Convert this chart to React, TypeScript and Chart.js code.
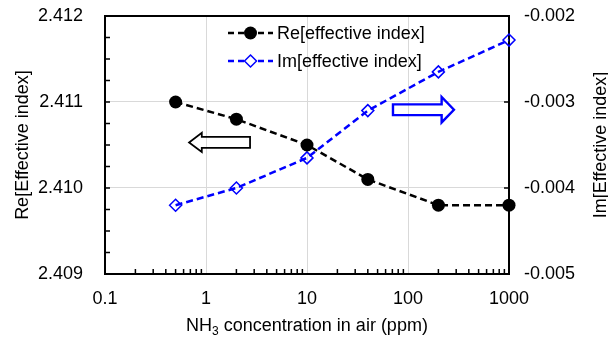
import React, { useEffect, useRef } from "react";
import { Chart, registerables } from "chart.js";

Chart.register(...registerables);

// NH3 concentration (ppm) and the computed effective index of the guided mode
const concentrations = [0.5, 2, 10, 40, 200, 1000];
const reIndex = [2.411, 2.4108, 2.4105, 2.4101, 2.4098, 2.4098];
const imIndex = [-0.0042, -0.004, -0.00365, -0.0031, -0.00265, -0.00228];

const xTicks = [0.1, 1, 10, 100, 1000];
const reTicks = [2.409, 2.41, 2.411, 2.412];
const imTicks = [-0.005, -0.004, -0.003, -0.002];
const reMinorStep = 0.00025;

const seriesLabels = ["Re[effective index]", "Im[effective index]"];
const leftTitle = "Re[Effective index]";
const rightTitle = "Im[Effective index]";
const xTitleParts = ["NH", "3", " concentration in air (ppm)"];

// Hollow arrows telling which axis each curve belongs to: [x, y] in data units
const reArrow = { from: [2.73, 2.41053], to: [0.68, 2.41053] };
const imArrow = { from: [71, -0.00309], to: [285, -0.00309] };

const FONT = "'Liberation Sans', Arial, Helvetica, sans-serif";
const BLUE = "#0000ff";
const GRID = "#d9d9d9";

function hollowArrow(
  ctx: CanvasRenderingContext2D,
  x0: number,
  x1: number,
  y: number,
  body: number,
  head: number,
  headLen: number,
  color: string,
  lw: number
) {
  const dir = Math.sign(x1 - x0);
  const hb = x1 - dir * headLen;
  ctx.save();
  ctx.strokeStyle = color;
  ctx.lineWidth = lw;
  ctx.lineJoin = "miter";
  ctx.beginPath();
  ctx.moveTo(x0, y - body);
  ctx.lineTo(hb, y - body);
  ctx.lineTo(hb, y - head);
  ctx.lineTo(x1, y);
  ctx.lineTo(hb, y + head);
  ctx.lineTo(hb, y + body);
  ctx.lineTo(x0, y + body);
  ctx.closePath();
  ctx.stroke();
  ctx.restore();
}

const framePlugin = {
  id: "frameAndMinorTicks",
  beforeDatasetsDraw(chart: any) {
    const { ctx, chartArea: a, scales } = chart;
    const x = scales.x;
    const y = scales.y;
    const y1 = scales.y1;
    ctx.save();
    ctx.strokeStyle = "#000";
    ctx.lineWidth = 1.5;
    ctx.beginPath();
    // minor ticks on the log axis, pointing into the plot
    for (let d = 0; d < xTicks.length - 1; d++) {
      for (let m = 2; m <= 9; m++) {
        const px = x.getPixelForValue(xTicks[d] * m);
        ctx.moveTo(px, a.bottom);
        ctx.lineTo(px, a.bottom - 5);
      }
    }
    // left axis minor/major ticks
    for (let v = reTicks[0]; v <= reTicks[reTicks.length - 1] + 1e-9; v += reMinorStep) {
      const py = y.getPixelForValue(v);
      ctx.moveTo(a.left, py);
      ctx.lineTo(a.left + 5, py);
    }
    // right axis major ticks
    imTicks.forEach((v) => {
      const py = y1.getPixelForValue(v);
      ctx.moveTo(a.right, py);
      ctx.lineTo(a.right - 5, py);
    });
    ctx.stroke();
    ctx.lineWidth = 2;
    ctx.strokeRect(a.left, a.top, a.right - a.left, a.bottom - a.top);
    ctx.restore();
  },
};

const decorPlugin = {
  id: "decor",
  afterDatasetsDraw(chart: any) {
    const { ctx, chartArea: a, scales } = chart;
    const x = scales.x;
    const y = scales.y;
    const y1 = scales.y1;

    // arrows
    hollowArrow(
      ctx,
      x.getPixelForValue(reArrow.from[0]),
      x.getPixelForValue(reArrow.to[0]),
      y.getPixelForValue(reArrow.from[1]),
      5.5,
      9.6,
      12.7,
      "#000",
      1.8
    );
    hollowArrow(
      ctx,
      x.getPixelForValue(imArrow.from[0]),
      x.getPixelForValue(imArrow.to[0]),
      y1.getPixelForValue(imArrow.from[1]),
      5.4,
      12.7,
      12.3,
      BLUE,
      2.4
    );

    // legend
    const lx0 = 228;
    const lx1 = 273;
    const rows = [33, 61];
    chart.data.datasets.forEach((ds: any, i: number) => {
      const ly = rows[i];
      ctx.save();
      ctx.strokeStyle = ds.borderColor;
      ctx.lineWidth = 2.5;
      ctx.setLineDash([6, 4]);
      ctx.beginPath();
      ctx.moveTo(lx0, ly);
      ctx.lineTo(lx1, ly);
      ctx.stroke();
      ctx.setLineDash([]);
      const cx = (lx0 + lx1) / 2;
      if (i === 0) {
        ctx.fillStyle = "#000";
        ctx.beginPath();
        ctx.arc(cx, ly, 6.5, 0, Math.PI * 2);
        ctx.fill();
      } else {
        ctx.fillStyle = "#fff";
        ctx.lineWidth = 1.5;
        ctx.beginPath();
        ctx.moveTo(cx, ly - 6);
        ctx.lineTo(cx + 6, ly);
        ctx.lineTo(cx, ly + 6);
        ctx.lineTo(cx - 6, ly);
        ctx.closePath();
        ctx.fill();
        ctx.stroke();
      }
      ctx.fillStyle = "#000";
      ctx.font = `18px ${FONT}`;
      ctx.textAlign = "left";
      ctx.textBaseline = "middle";
      ctx.fillText(ds.label, 277, ly + 1);
      ctx.restore();
    });

    // axis titles
    const midY = (a.top + a.bottom) / 2;
    ctx.save();
    ctx.fillStyle = "#000";
    ctx.font = `18px ${FONT}`;
    ctx.textAlign = "center";
    ctx.textBaseline = "alphabetic";
    ctx.save();
    ctx.translate(28, midY);
    ctx.rotate(-Math.PI / 2);
    ctx.fillText(leftTitle, 0, 0);
    ctx.restore();
    ctx.save();
    ctx.translate(606, midY);
    ctx.rotate(-Math.PI / 2);
    ctx.fillText(rightTitle, 0, 0);
    ctx.restore();

    // x title with subscript
    const big = `18px ${FONT}`;
    const small = `12px ${FONT}`;
    ctx.font = big;
    const w0 = ctx.measureText(xTitleParts[0]).width;
    const w2 = ctx.measureText(xTitleParts[2]).width;
    ctx.font = small;
    const w1 = ctx.measureText(xTitleParts[1]).width;
    const total = w0 + w1 + w2;
    let tx = (a.left + a.right) / 2 - total / 2;
    const ty = 331;
    ctx.textAlign = "left";
    ctx.font = big;
    ctx.fillText(xTitleParts[0], tx, ty);
    tx += w0;
    ctx.font = small;
    ctx.fillText(xTitleParts[1], tx, ty + 4);
    tx += w1;
    ctx.font = big;
    ctx.fillText(xTitleParts[2], tx, ty);
    ctx.restore();
  },
};

export default function App() {
  const canvasRef = useRef<HTMLCanvasElement | null>(null);

  useEffect(() => {
    const canvas = canvasRef.current;
    if (!canvas) return;
    const tickFont = { family: FONT, size: 18 };
    const noPad = (s: any) => {
      s.paddingTop = 0;
      s.paddingBottom = 0;
      s.paddingLeft = 0;
      s.paddingRight = 0;
    };
    const chart = new Chart(canvas, {
      type: "line",
      data: {
        datasets: [
          {
            label: seriesLabels[0],
            data: concentrations.map((c, i) => ({ x: c, y: reIndex[i] })),
            yAxisID: "y",
            borderColor: "#000",
            backgroundColor: "#000",
            borderWidth: 2.5,
            borderDash: [7, 4],
            pointStyle: "circle",
            pointRadius: 6.5,
            pointBorderWidth: 0,
            pointBackgroundColor: "#000",
            clip: false,
          },
          {
            label: seriesLabels[1],
            data: concentrations.map((c, i) => ({ x: c, y: imIndex[i] })),
            yAxisID: "y1",
            borderColor: BLUE,
            backgroundColor: "rgba(0,0,0,0)",
            borderWidth: 2.5,
            borderDash: [7, 4],
            pointStyle: "rectRot",
            pointRadius: 6,
            pointBorderWidth: 1.5,
            pointBorderColor: BLUE,
            pointBackgroundColor: "rgba(0,0,0,0)",
            clip: false,
          },
        ],
      },
      options: {
        responsive: false,
        animation: false,
        devicePixelRatio: 1,
        layout: { padding: { top: 16, left: 0, right: 0, bottom: 0 } },
        plugins: {
          legend: { display: false },
          tooltip: { enabled: false },
        },
        elements: { line: { tension: 0 } },
        scales: {
          x: {
            type: "logarithmic",
            position: "bottom",
            min: 0.1,
            max: 1000,
            afterBuildTicks: (s: any) => {
              s.ticks = xTicks.map((v) => ({ value: v }));
            },
            afterFit: (s: any) => {
              s.height = 64;
              noPad(s);
            },
            grid: { color: GRID, lineWidth: 1, drawTicks: false },
            border: { display: false },
            ticks: {
              color: "#000",
              font: tickFont,
              padding: 14,
              maxRotation: 0,
              autoSkip: false,
              callback: (v: any) => String(v),
            },
          },
          y: {
            type: "linear",
            position: "left",
            min: reTicks[0],
            max: reTicks[reTicks.length - 1],
            afterBuildTicks: (s: any) => {
              s.ticks = reTicks.map((v) => ({ value: v }));
            },
            afterFit: (s: any) => {
              s.width = 105;
              noPad(s);
            },
            grid: { color: GRID, lineWidth: 1, drawTicks: false },
            border: { display: false },
            ticks: {
              color: "#000",
              font: tickFont,
              padding: 22,
              callback: (v: any) => Number(v).toFixed(3),
            },
          },
          y1: {
            type: "linear",
            position: "right",
            min: imTicks[0],
            max: imTicks[imTicks.length - 1],
            afterBuildTicks: (s: any) => {
              s.ticks = imTicks.map((v) => ({ value: v }));
            },
            afterFit: (s: any) => {
              s.width = 99;
              noPad(s);
            },
            grid: { drawOnChartArea: false, drawTicks: false },
            border: { display: false },
            ticks: {
              color: "#000",
              font: tickFont,
              padding: 15,
              callback: (v: any) => Number(v).toFixed(3),
            },
          },
        },
      },
      plugins: [framePlugin, decorPlugin],
    } as any);
    return () => chart.destroy();
  }, []);

  return (
    <div style={{ position: "fixed", left: 0, top: 0, width: 608, height: 338, background: "#fff" }}>
      <canvas ref={canvasRef} width={608} height={338} style={{ display: "block" }} />
    </div>
  );
}
